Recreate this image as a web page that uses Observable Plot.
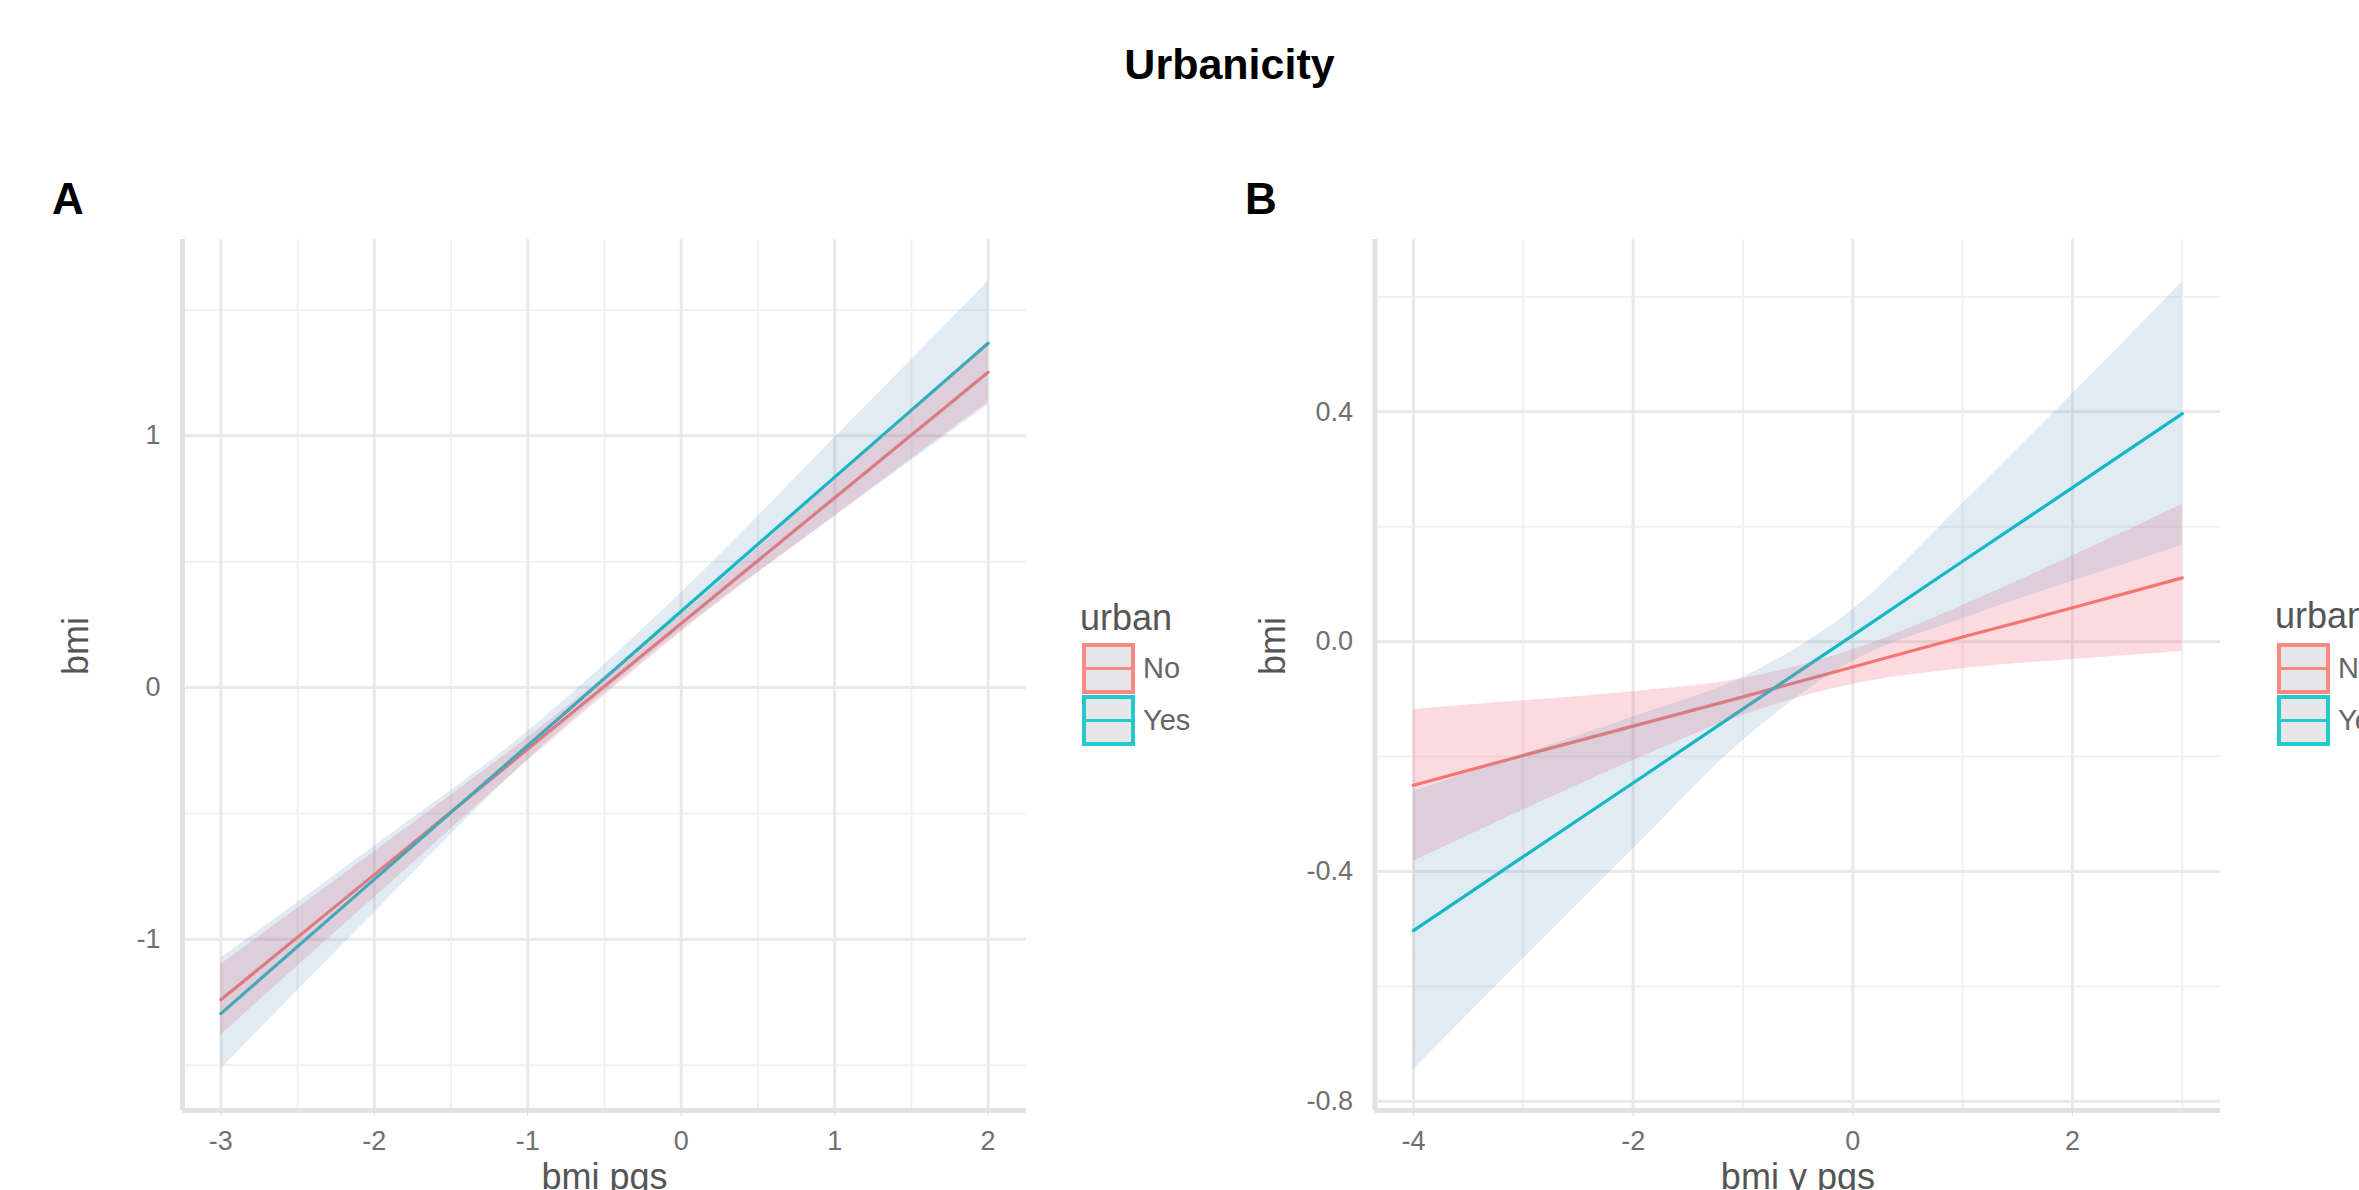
<!DOCTYPE html>
<html><head><meta charset="utf-8">
<script src="https://cdn.jsdelivr.net/npm/d3@7"></script>
<script src="https://cdn.jsdelivr.net/npm/@observablehq/plot@0.6"></script>
<style>
html,body{margin:0;padding:0;background:#fff;overflow:hidden;}
#root{position:relative;width:2359px;height:1190px;font-family:"Liberation Sans",Arial,sans-serif;}
.abs{position:absolute;white-space:nowrap;line-height:1;}
.key{position:absolute;box-sizing:border-box;background:#e3e3e6;}
.key .ln{position:absolute;left:0;right:0;top:50%;height:3px;margin-top:-1.5px;}
</style></head><body><div id="root"></div><script>
// ---------- data ----------
const title = "Urbanicity";
const urbanLevels = ["No", "Yes"];
const lineColors = ["#F8766D", "#00BFC4"];
const ribbonColors = ["#f07080", "#6a9bc8"];

// Panel A: bmi vs bmi pgs
const xA = [-3, -2, -1, 0, 1, 2];
const fitNoA = [-1.24, -0.743, -0.244, 0.255, 0.754, 1.253];
const loNoA  = [-1.38, -0.834, -0.291, 0.221, 0.682, 1.133];
const hiNoA  = [-1.10, -0.652, -0.198, 0.289, 0.826, 1.373];
const fitYesA = [-1.295, -0.762, -0.23, 0.303, 0.836, 1.368];
const loYesA  = [-1.515, -0.894, -0.286, 0.229, 0.680, 1.123];
const hiYesA  = [-1.075, -0.630, -0.174, 0.377, 0.992, 1.613];
const xTicksA = [-3, -2, -1, 0, 1, 2];
const xMinorA = [-2.5, -1.5, -0.5, 0.5, 1.5];
const yTicksA = [-1, 0, 1];
const yMinorA = [-1.5, -0.5, 0.5, 1.5];

// Panel B: bmi vs bmi y pgs
const xB = [-4, -3, -2, -1, 0, 1, 2, 3];
const fitNoB = [-0.25, -0.198, -0.147, -0.096, -0.044, 0.008, 0.059, 0.111];
const loNoB  = [-0.382, -0.293, -0.207, -0.128, -0.074, -0.047, -0.031, -0.017];
const hiNoB  = [-0.118, -0.103, -0.087, -0.064, -0.014, 0.063, 0.149, 0.239];
const fitYesB = [-0.503, -0.374, -0.246, -0.117, 0.011, 0.140, 0.268, 0.397];
const loYesB  = [-0.745, -0.552, -0.361, -0.172, -0.034, 0.040, 0.105, 0.168];
const hiYesB  = [-0.261, -0.196, -0.131, -0.062, 0.056, 0.240, 0.431, 0.626];
const xTicksB = [-4, -2, 0, 2];
const xMinorB = [-3, -1, 1, 3];
const yTicksB = [-0.8, -0.4, 0, 0.4];
const yMinorB = [-0.6, -0.2, 0.2, 0.6];

// ---------- build ----------
function rows(xs, fit, lo, hi, urban) {
  return xs.map((x, i) => ({x, fit: fit[i], lo: lo[i], hi: hi[i], urban}));
}
const dataA = [rows(xA, fitNoA, loNoA, hiNoA, "No"), rows(xA, fitYesA, loYesA, hiYesA, "Yes")];
const dataB = [rows(xB, fitNoB, loNoB, hiNoB, "No"), rows(xB, fitYesB, loYesB, hiYesB, "Yes")];

function panel(o) {
  const marks = [
    Plot.gridX(o.xMinor, {stroke: "#f1f1f1", strokeOpacity: 1, strokeWidth: 2}),
    Plot.gridY(o.yMinor, {stroke: "#f1f1f1", strokeOpacity: 1, strokeWidth: 2}),
    Plot.gridX(o.xTicks, {stroke: "#e9e9e9", strokeOpacity: 1, strokeWidth: 3}),
    Plot.gridY(o.yTicks, {stroke: "#e9e9e9", strokeOpacity: 1, strokeWidth: 3}),
    Plot.ruleX([o.xDomain[0]], {stroke: "#e2e2e2", strokeWidth: 5}),
    Plot.ruleY([o.yDomain[0]], {stroke: "#e2e2e2", strokeWidth: 5}),
  ];
  o.data.forEach((d, i) => marks.push(Plot.line(d, {x: "x", y: "fit", stroke: lineColors[i], strokeWidth: 3.2})));
  o.data.forEach((d, i) => marks.push(Plot.areaY(d, {x: "x", y1: "lo", y2: "hi", fill: ribbonColors[i], fillOpacity: i === 0 ? 0.25 : 0.2, curve: "monotone-x"})));
  marks.push(
    Plot.axisX(o.xTicks, {tickSize: 6, tickPadding: 14, stroke: "#dcdcdc", fill: "#707070", fontSize: 27, tickFormat: d => String(d), label: null}),
    Plot.axisY(o.yTicks, {tickSize: 0, tickPadding: 22, fill: "#707070", fontSize: 27, tickFormat: o.yFmt, label: null}),
    Plot.text([o.xLabel], {text: d => d, frameAnchor: "bottom", dy: 78, lineAnchor: "bottom", fontSize: 36, fill: "#555"}),
    Plot.text([o.yLabel], {text: d => d, frameAnchor: "left", dx: o.yLabelDx, rotate: -90, lineAnchor: "bottom", fontSize: 36, fill: "#555"})
  );
  return Plot.plot({
    width: o.width, height: 1190,
    marginLeft: o.mL, marginRight: o.mR, marginTop: 239, marginBottom: 80,
    x: {domain: o.xDomain}, y: {domain: o.yDomain},
    style: {fontFamily: "'Liberation Sans', Arial, sans-serif", background: "transparent", overflow: "visible"},
    marks
  });
}

const root = document.getElementById("root");
function place(el, left, top) {
  el.style.position = "absolute"; el.style.left = left + "px"; el.style.top = top + "px";
  root.appendChild(el);
}
function textDiv(txt, left, baseline, size, opts = {}) {
  const d = document.createElement("div");
  d.className = "abs";
  d.textContent = txt;
  d.style.fontSize = size + "px";
  d.style.color = opts.color || "#000";
  if (opts.bold) d.style.fontWeight = "bold";
  if (opts.center) d.style.transform = "translateX(-50%)";
  place(d, left, baseline - 0.8465 * size);
  return d;
}

const plotA = panel({data: dataA, xDomain: [-3.25, 2.25], yDomain: [-1.68, 1.78], xTicks: xTicksA, xMinor: xMinorA,
  yTicks: yTicksA, yMinor: yMinorA, width: 1060, mL: 182, mR: 34, xLabel: "bmi pgs", yLabel: "bmi", yLabelDx: -95,
  yFmt: d => String(d)});
place(plotA, 0, 0);
const plotB = panel({data: dataB, xDomain: [-4.35, 3.35], yDomain: [-0.816, 0.70], xTicks: xTicksB, xMinor: xMinorB,
  yTicks: yTicksB, yMinor: yMinorB, width: 1159, mL: 174.5, mR: 138.7, xLabel: "bmi y pgs", yLabel: "bmi", yLabelDx: -90,
  yFmt: d => d.toFixed(1)});
place(plotB, 1200, 0);

textDiv(title, 1229.5, 79, 43, {bold: true, center: true});
textDiv("A", 52, 214, 44, {bold: true});
textDiv("B", 1245, 214, 44, {bold: true});

function legend(left, titleBaseline) {
  textDiv("urban", left - 2, titleBaseline, 36, {color: "#555"});
  urbanLevels.forEach((lev, i) => {
    const top = 643 + i * 52;
    const k = document.createElement("div");
    k.className = "key";
    k.style.width = "53px"; k.style.height = "51px";
    k.style.border = "4px solid " + lineColors[i];
    k.style.opacity = "0.85";
    const ln = document.createElement("div");
    ln.className = "ln"; ln.style.background = lineColors[i];
    k.appendChild(ln);
    place(k, left, top);
    textDiv(lev, left + 61, top + 25 + 11, 29, {color: "#666"});
  });
}
legend(1082, 630);
legend(2277, 628);
</script></body></html>
